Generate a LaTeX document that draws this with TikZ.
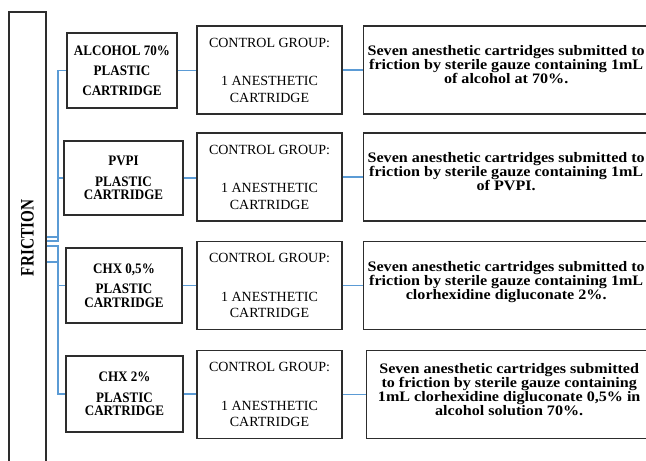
\documentclass[tikz,border=0pt]{standalone}
\usepackage{fontspec}
\setmainfont{Liberation Serif}
\newfontfamily\wideserif[FakeStretch=1.11]{Liberation Serif}
\newfontfamily\narrowserif[FakeStretch=0.9]{Liberation Serif}
\newfontfamily\tallserif[FakeStretch=0.8]{Liberation Serif}
\usetikzlibrary{positioning}
\definecolor{linkblue}{RGB}{91,155,213}
\definecolor{boxgray}{RGB}{45,45,45}

\begin{document}
\begin{tikzpicture}[x=1pt,y=-1pt,
  node distance=20pt,
  box/.style={draw=boxgray,line width=1.2pt,align=center,inner sep=0pt},
  agentbox/.style={box,minimum height=75pt,font=\narrowserif\bfseries\fontsize{14.5pt}{13.5pt}\selectfont},
  ctrlbox/.style={box,minimum width=145pt,minimum height=88pt,font=\fontsize{14pt}{16.5pt}\selectfont},
  descbox/.style={box,minimum width=286pt,minimum height=88pt,text depth=11pt,
    font=\wideserif\bfseries\fontsize{14.5pt}{14pt}\selectfont},
  link/.style={draw=linkblue,line width=1.6pt}
]
\clip (0,0) rectangle (646,461);

% main group
\node[box,rotate=90,minimum width=452pt,minimum height=37pt,
  font=\tallserif\bfseries\fontsize{19pt}{19pt}\selectfont] (fric) at (27.5,238) {FRICTION};

% antiseptics
\node[agentbox,minimum width=110pt] (a1) at (122,70.5) {ALCOHOL 70\%\\[6.5pt]PLASTIC\\[6.5pt]CARTRIDGE};
\node[agentbox,minimum width=119pt,minimum height=74pt] (a2) at (123.5,178) {PVPI\\[7pt]PLASTIC\\CARTRIDGE};
\node[agentbox,minimum width=116pt] (a3) at (124,285.5) {CHX 0,5\%\\[7pt]PLASTIC\\CARTRIDGE};
\node[agentbox,minimum width=117pt,minimum height=76pt] (a4) at (124.5,394) {CHX 2\%\\[7pt]PLASTIC\\CARTRIDGE};

% control groups
\node[ctrlbox] (c1) at (269.5,70) {CONTROL GROUP:\\[22pt]1 ANESTHETIC\\CARTRIDGE};
\node[ctrlbox] (c2) at (269.5,177) {CONTROL GROUP:\\[22pt]1 ANESTHETIC\\CARTRIDGE};
\node[ctrlbox] (c3) at (269.5,285.5) {CONTROL GROUP:\\[22pt]1 ANESTHETIC\\CARTRIDGE};
\node[ctrlbox] (c4) at (269.5,394.5) {CONTROL GROUP:\\[22pt]1 ANESTHETIC\\CARTRIDGE};

% descriptions
\node[descbox,right=of c1] (s1) {Seven anesthetic cartridges submitted to\\friction by sterile gauze containing 1mL\\of alcohol at 70\%.};
\node[descbox,right=of c2] (s2) {Seven anesthetic cartridges submitted to\\friction by sterile gauze containing 1mL\\of PVPI.};
\node[descbox,right=of c3] (s3) {Seven anesthetic cartridges submitted to\\friction by sterile gauze containing 1mL\\clorhexidine digluconate 2\%.};
\node[descbox,right=23pt of c4] (s4) {Seven anesthetic cartridges submitted\\to friction by sterile gauze containing\\1mL clorhexidine digluconate 0,5\% in\\alcohol solution 70\%.};

% tree lines
\coordinate (trunk) at (58,0);
\coordinate (st1) at (0,237);
\coordinate (st2) at (0,241);
\coordinate (st3) at (0,246);
\coordinate (st4) at (0,262);
\foreach \i in {1,...,4}{
  \draw[link] (fric.south |- st\i) -| (trunk |- a\i.west) -- (a\i.west);
  \draw[link] (a\i.east) -- (a\i.east -| c\i.west);
  \draw[link] (c\i.east) -- (s\i.west);
}
\end{tikzpicture}
\end{document}
